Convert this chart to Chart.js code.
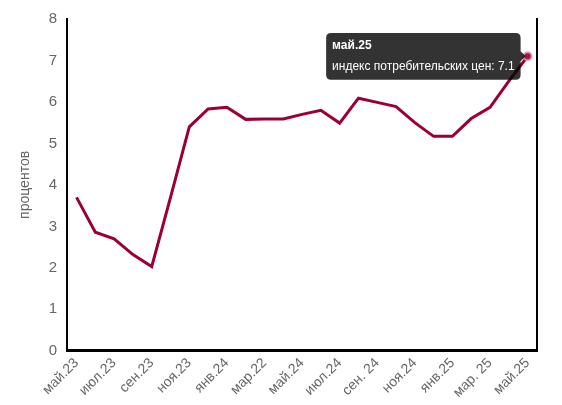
<!DOCTYPE html>
<html>
<head>
<meta charset="utf-8">
<script src="https://cdn.jsdelivr.net/npm/chart.js@4/dist/chart.umd.min.js"></script>
<style>
html,body{margin:0;padding:0;background:#fff;}
#wrap{width:562px;height:405px;}
</style>
</head>
<body>
<div id="wrap"><canvas id="c" width="562" height="405"></canvas></div>
<script>
const categories = ["май.23","июн.23","июл.23","авг.23","сен.23","окт.23","ноя.23","дек.23","янв.24","фев.24","мар.22","апр.24","май.24","июн.24","июл.24","авг.24","сен. 24","окт.24","ноя.24","дек.24","янв.25","фев.25","мар. 25","апр.25","май.25"];
const cpiValues = [3.7,2.86,2.7,2.32,2.03,3.7,5.4,5.83,5.87,5.58,5.59,5.59,5.7,5.8,5.49,6.09,5.99,5.89,5.5,5.17,5.17,5.6,5.87,6.5,7.1];
const seriesName = "индекс потребительских цен";
const yTicksMax = 8;
const yTitle = "процентов";

Chart.defaults.font.family = "'Liberation Sans', Arial, sans-serif";
const lineColor = "rgb(155,0,52)";

const chart = new Chart(document.getElementById('c'), {
  type: 'line',
  data: {
    labels: categories,
    datasets: [{
      label: seriesName,
      data: cpiValues,
      borderColor: lineColor,
      backgroundColor: lineColor,
      borderWidth: 3,
      pointRadius: 0,
      pointHoverRadius: 4,
      pointHoverBackgroundColor: "rgb(175,20,70)",
      pointHoverBorderColor: "rgba(220,160,180,0.8)",
      pointHoverBorderWidth: 2,
      tension: 0,
      fill: false,
      yAxisID: 'y'
    }]
  },
  options: {
    responsive: false,
    animation: false,
    layout: { padding: { top: 15, right: 25, left: 17, bottom: 0 } },
    plugins: {
      legend: { display: false },
      tooltip: {
        enabled: true,
        backgroundColor: 'rgba(0,0,0,0.8)',
        displayColors: false,
        xAlign: 'right',
        yAlign: 'center',
        titleFont: { size: 12, weight: 'bold' },
        bodyFont: { size: 12 },
        padding: 6,
        caretSize: 5,
        cornerRadius: 5,
        callbacks: {
          label: (ctx) => seriesName + ': ' + ctx.parsed.y
        }
      }
    },
    scales: {
      x: {
        offset: true,
        grid: { display: false, drawTicks: false },
        border: { display: true, color: '#000', width: 3 },
        ticks: {
          autoSkip: false,
          maxRotation: 45,
          minRotation: 45,
          color: '#666',
          font: { size: 14 },
          padding: 4,
          callback: function(v, i) { return i % 2 === 0 ? categories[i] : ''; }
        }
      },
      y: {
        min: 0,
        max: yTicksMax,
        grid: { display: false, drawTicks: false },
        border: { display: true, color: '#000', width: 2 },
        ticks: { stepSize: 1, color: '#666', font: { size: 15 }, padding: 10 },
        title: { display: true, text: yTitle, color: '#666', font: { size: 14 }, padding: { top: 0, bottom: 5 } }
      },
      y2: {
        position: 'right',
        min: 0,
        max: yTicksMax,
        grid: { display: false, drawTicks: false },
        border: { display: true, color: '#000', width: 2 },
        ticks: { display: false }
      }
    }
  }
});

const last = cpiValues.length - 1;
const meta = chart.getDatasetMeta(0);
const pt = meta.data[last];
chart.setActiveElements([{ datasetIndex: 0, index: last }]);
chart.tooltip.setActiveElements([{ datasetIndex: 0, index: last }], { x: pt.x, y: pt.y });
chart.update();
</script>
</body>
</html>
